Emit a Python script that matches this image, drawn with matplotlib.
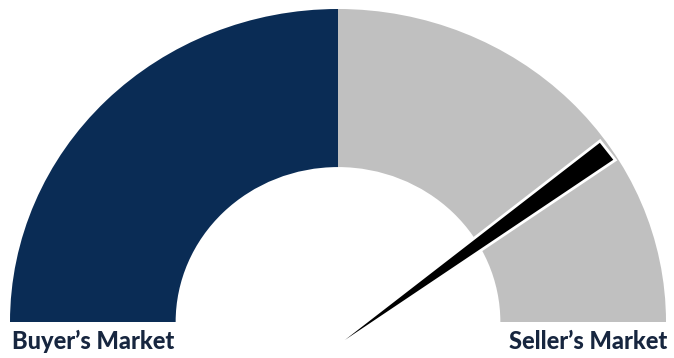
import numpy as np
import matplotlib.pyplot as plt
from matplotlib.patches import Wedge, Polygon

# gauge data
labels = ["Buyer\u2019s Market", "Seller\u2019s Market"]
shares = [50, 50]
colors = ["#0a2c55", "#c0c0c0"]
needle_value = 79.4  # 0 = full buyer's, 100 = full seller's

W, H = 674, 358
fig = plt.figure(figsize=(W / 100, H / 100), dpi=100)
ax = fig.add_axes([0, 0, 1, 1])

# gauge centre at pixel (338, 322), outer radius 328 x 313 px
cx, cy, rx, ry = 338.0, 322.0, 328.0, 313.0
ax.set_xlim(-cx / rx, (W - cx) / rx)
ax.set_ylim((cy - H) / ry, cy / ry)
ax.axis("off")

outer = 1.0
inner = 0.495

start = 180.0
total = sum(shares)
for share, col in zip(shares, colors):
    sweep = 180.0 * share / total
    ax.add_patch(Wedge((0, 0), outer, start - sweep, start, width=outer - inner,
                       facecolor=col, edgecolor="none", zorder=1))
    start -= sweep

# needle: thin tapering wedge with a white rim
ang = np.deg2rad(180.0 * (1 - needle_value / 100.0))
base = np.array([0.021, -0.0575])
d = np.array([np.cos(ang), np.sin(ang)])
n = np.array([-np.sin(ang), np.cos(ang)])
length = 1.0
half_w = 0.034
tip = base + d * length
pts = [base, tip + n * half_w, tip - n * half_w]
ax.add_patch(Polygon(pts, closed=True, facecolor="black", edgecolor="white",
                     linewidth=4, joinstyle="miter", zorder=3))
ax.add_patch(Polygon(pts, closed=True, facecolor="black", edgecolor="none", zorder=4))

txt_y = (cy - 349) / ry
font = dict(fontsize=17, fontweight="black", color="#17263f", family="Lato")
ax.text(-outer + 0.005, txt_y, labels[0], ha="left", va="baseline", **font)
ax.text(outer + 0.003, txt_y, labels[1], ha="right", va="baseline", **font)

fig.savefig("out.png", dpi=100, facecolor="white")
